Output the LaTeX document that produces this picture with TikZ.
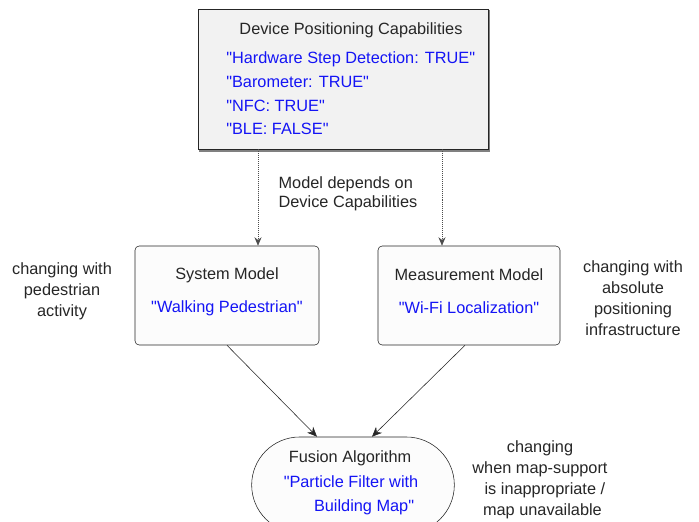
\documentclass[tikz,border=0pt]{standalone}
\usepackage{fontspec}
\setmainfont{Liberation Sans}[Ligatures=TeXOff]
\usepackage{tikz}
\usetikzlibrary{calc,arrows.meta,shapes.misc}
\usepackage{xcolor}
\definecolor{capblue}{RGB}{20,20,245}
\definecolor{capfill}{RGB}{242,242,242}
\definecolor{boxfill}{RGB}{252,252,252}

\tikzset{
  txt/.style={font=\fontsize{11.6}{14}\selectfont, inner sep=0pt, text=black!85},
  val/.style={txt, text=capblue},
  side/.style={txt, align=center},
  model/.style={draw=black!85, fill=boxfill, rounded corners=3pt, minimum width=#1, minimum height=2.475cm},
  dep/.style={densely dotted, black!70, -{Stealth[length=6pt,width=5pt]}},
  flow/.style={black!85, -{Stealth[length=7pt,width=6pt]}}
}

\begin{document}
\begin{tikzpicture}[x=0.025cm,y=-0.025cm]
\useasboundingbox (0,0) rectangle (699,521);
\clip (0,0) rectangle (699,521);

% capabilities box
\fill [black!50] (199,10) rectangle (490,151.5);
\node [draw=black!85, fill=capfill, minimum width=7.25cm, minimum height=3.5cm] (caps) at (343.5,79) {};
\node [txt] (capt) at (351,30) {Device Positioning Capabilities};
\node [val, anchor=west] (c1) at (226,59) {"Hardware Step Detection: TRUE"};
\node [val, anchor=west] (c2) at (226,82) {"Barometer: TRUE"};
\node [val, anchor=west] (c3) at (226,106) {"NFC: TRUE"};
\node [val, anchor=west] (c4) at (226,129) {"BLE: FALSE"};

% models
\node [model=4.6cm] (sys) at (227,295.5) {};
\node [txt] (syst) at (227,275) {System Model};
\node [val] (sysv) at (227,308) {"Walking Pedestrian"};

\node [model=4.55cm] (meas) at (469,295.5) {};
\node [txt] (meast) at (469,275) {Measurement Model};
\node [val] (measv) at (469,308) {"Wi-Fi Localization"};

% fusion
\node [rounded rectangle, draw=black!85, fill=boxfill, minimum width=5.3cm, minimum height=2.4cm] (fus) at (353,485) {};
\node [txt] (fust) at (350,458) {Fusion Algorithm};
\node [val, align=center] (fusv) at (351,495) {"Particle Filter with\\[3pt]\hspace*{1.6em}Building Map"};

% side remarks
\node [txt] (dept) at (348,194) {\begin{tabular}{@{}l@{}}Model depends on\\[-1pt]Device Capabilities\end{tabular}};
\node [side] (ls) at (62,291) {changing with\\[1pt]pedestrian\\[1pt]activity};
\node [side] (rs) at (633,298) {changing with\\[1pt]absolute\\[1pt]positioning\\[1pt]infrastructure};
\node [side] (bs) at (540,480) {changing\\[1pt]when map-support\\[1pt]\hspace*{0.6em}is inappropriate /\\[1pt]\hspace*{0.3em}map unavailable};

% connectors
\coordinate (dl) at (258,0);
\coordinate (dr) at (442,0);
\coordinate (fl) at (317,0);
\coordinate (fr) at (372,0);
\draw [dep] (dl |- caps.south) -- (dl |- sys.north);
\draw [dep] (dr |- caps.south) -- (dr |- meas.north);
\draw [flow] (sys.south) -- (fl |- fus.north);
\draw [flow] ($(meas.south)+(-4,0)$) -- (fr |- fus.north);
\end{tikzpicture}
\end{document}
